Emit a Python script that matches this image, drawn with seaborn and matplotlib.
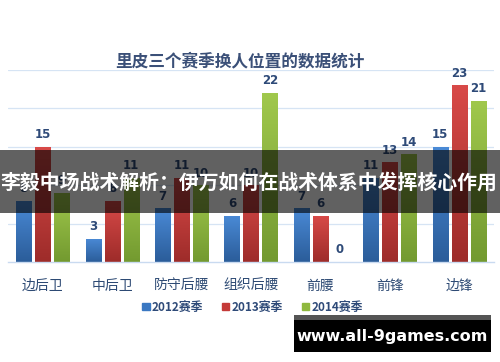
import numpy as np
import pandas as pd
import matplotlib
matplotlib.use("Agg")
import matplotlib.pyplot as plt
import seaborn as sns
from matplotlib.colors import LinearSegmentedColormap
from matplotlib.patches import Rectangle

categories = ["边后卫", "中后卫", "防守后腰", "组织后腰", "前腰", "前锋", "边锋"]
series_names = ["2012赛季", "2013赛季", "2014赛季"]
s2012 = [8, 3, 7, 6, 7, 11, 15]
s2013 = [15, 8, 11, 10, 6, 13, 23]
s2014 = [9, 11, 10, 22, 0, 14, 21]
title = "里皮三个赛季换人位置的数据统计"
banner = "李毅中场战术解析：伊万如何在战术体系中发挥核心作用"
watermark = "www.all-9games.com"

colors = ["#3a78c2", "#c43a38", "#8fb83e"]
tops = ["#4a8ad6", "#d84a48", "#a0c84c"]
bottoms = ["#2b5d9a", "#9e2c2a", "#739a30"]

sns.set_theme(style="white")
plt.rcParams['font.family'] = ['Noto Sans CJK SC', 'DejaVu Sans']

df = pd.DataFrame({
    "cat": categories * 3,
    "series": sum([[n] * len(categories) for n in series_names], []),
    "val": s2012 + s2013 + s2014,
})

fig = plt.figure(figsize=(5.0, 3.62), dpi=100)
ax = fig.add_axes([8 / 500, 1 - 262 / 362, 486 / 500, (262 - 70) / 362])
sns.barplot(data=df, x="cat", y="val", hue="series", palette=colors,
            width=0.82, gap=0.2, ax=ax, legend=False)
ax.set_ylim(0, 25)
ax.set_xlim(-0.5, len(categories) - 0.5)
ax.set_yticks([5, 10, 15, 20, 25])
ax.yaxis.grid(True, color="#d6e4f4", linewidth=0.9)
ax.set_axisbelow(True)
ax.tick_params(axis="y", left=False, labelleft=False)
ax.tick_params(axis="x", bottom=False, labelsize=10, colors="#2d4a74", pad=6)
for lab in ax.get_xticklabels():
    lab.set_fontweight("medium")
ax.set_xlabel("")
ax.set_ylabel("")
for s in ["top", "left", "right"]:
    ax.spines[s].set_visible(False)
ax.spines["bottom"].set_color("#c9daf0")
ax.spines["bottom"].set_linewidth(1.0)

# gradient fill for bars
for i, cont in enumerate(ax.containers):
    cmap = LinearSegmentedColormap.from_list("g", [bottoms[i], tops[i]])
    for p in cont.patches:
        x0, y0 = p.get_x(), p.get_y()
        w, h = p.get_width(), p.get_height()
        if h <= 0:
            continue
        grad = np.linspace(0, 1, 64).reshape(-1, 1)
        im = ax.imshow(grad, extent=[x0, x0 + w, y0, y0 + h], origin="lower",
                       cmap=cmap, aspect="auto", zorder=p.get_zorder())
        im.set_clip_path(p)
        p.set_facecolor("none")
        p.set_edgecolor("none")
    ax.bar_label(cont, labels=[str(int(v)) for v in cont.datavalues], padding=4,
                 fontsize=8.5, fontweight="bold", color="#2e4a78",
                 family="DejaVu Sans", clip_on=False)
ax.set_xlim(-0.5, len(categories) - 0.5)
ax.set_ylim(0, 25)

fig.text(0.48, 1 - 61 / 362, title, ha="center", va="center", fontsize=12,
         fontweight="bold", color="#3b5078")

# legend
handles = [Rectangle((0, 0), 1, 1, color=c) for c in colors]
leg = fig.legend(handles, series_names, loc="center", bbox_to_anchor=(0.505, 1 - 307 / 362),
                 ncol=3, frameon=False, fontsize=8.5, handlelength=0.6, handleheight=0.6,
                 handletextpad=0.2, columnspacing=1.6)
for t in leg.get_texts():
    t.set_fontweight("bold")
    t.set_color("#2e4a78")

# overlay banner
fig.patches.append(Rectangle((0, 1 - 213 / 362), 1, 63 / 362, transform=fig.transFigure,
                             facecolor="black", alpha=0.62, zorder=10, edgecolor="none"))
fig.text(0.497, 1 - 182 / 362, banner, ha="center", va="center", fontsize=14.3,
         fontweight="bold", color="white", zorder=11)

# watermark
fig.patches.append(Rectangle((294 / 500, 1 - 352 / 362), 197 / 500, 37 / 362,
                             transform=fig.transFigure, facecolor="black", zorder=10,
                             edgecolor="none"))
fig.patches.append(Rectangle((294 / 500, 1 - 320 / 362), 197 / 500, 5 / 362,
                             transform=fig.transFigure, facecolor="#555555", zorder=10,
                             edgecolor="none"))
fig.text(392 / 500, 1 - 337 / 362, watermark, ha="center", va="center", fontsize=11.5,
         fontweight="bold", color="white", zorder=11, family="DejaVu Sans")

fig.savefig("out.png", dpi=100)
